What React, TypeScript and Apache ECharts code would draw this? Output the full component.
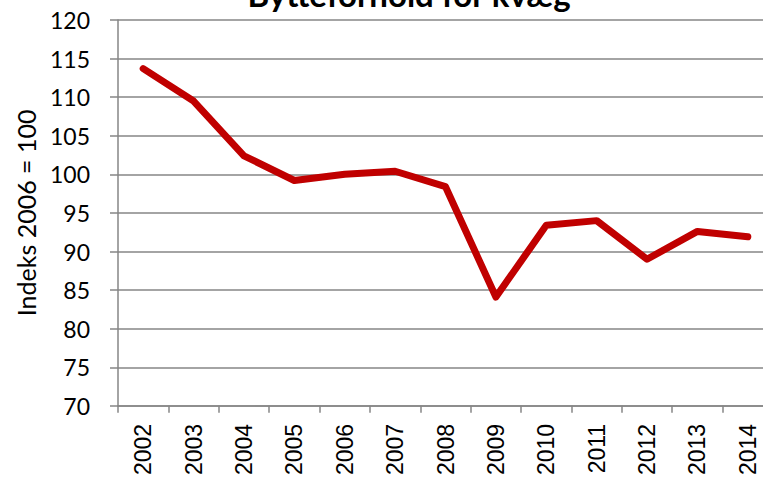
import React, { useEffect, useRef } from "react";
import * as echarts from "echarts";

const years = ["2002", "2003", "2004", "2005", "2006", "2007", "2008", "2009", "2010", "2011", "2012", "2013", "2014"];
const indexValues = [113.7, 109.5, 102.4, 99.2, 100.0, 100.4, 98.4, 84.1, 93.4, 94.0, 89.0, 92.6, 91.9];
const titleText = "Bytteforhold for kvæg";
const yAxisName = "Indeks 2006 = 100";

export default function App() {
  const ref = useRef<HTMLDivElement>(null);
  useEffect(() => {
    if (!ref.current) return;
    const chart = echarts.init(ref.current, null, { renderer: "svg" });
    chart.setOption({
      animation: false,
      backgroundColor: "#ffffff",
      graphic: [
        {
          type: "text",
          x: 409,
          y: 10,
          style: {
            text: titleText,
            font: "bold 33px Lato",
            fill: "#000",
            textAlign: "center",
            textVerticalAlign: "bottom",
          },
        },
      ],
      grid: { left: 118, top: 20, width: 655, bottom: 70, containLabel: false },
      xAxis: {
        type: "category",
        data: years,
        boundaryGap: true,
        axisLine: { lineStyle: { color: "#868686", width: 1.5 } },
        axisTick: { show: true, length: 7, alignWithLabel: false, lineStyle: { color: "#868686", width: 1.5 } },
        axisLabel: { rotate: 90, color: "#000", fontSize: 23, fontFamily: "Liberation Sans", margin: 18, interval: 0 },
      },
      yAxis: {
        type: "value",
        min: 70,
        max: 120,
        interval: 5,
        name: yAxisName,
        nameLocation: "middle",
        nameGap: 80,
        nameTextStyle: { fontSize: 25, fontFamily: "Lato", color: "#000" },
        axisLine: { show: true, lineStyle: { color: "#868686", width: 1.5 } },
        axisTick: { show: true, length: 8, lineStyle: { color: "#868686", width: 1.5 } },
        axisLabel: { color: "#000", fontSize: 23, fontFamily: "Lato", margin: 28 },
        splitLine: { lineStyle: { color: "#868686", width: 1.5 } },
      },
      series: [
        {
          type: "line",
          data: indexValues,
          showSymbol: false,
          symbol: "none",
          lineStyle: { color: "#C00000", width: 7, cap: "round", join: "round" },
        },
      ],
    });
    return () => chart.dispose();
  }, []);
  return <div ref={ref} style={{ position: "fixed", left: 0, top: 0, width: 790, height: 478 }} />;
}
